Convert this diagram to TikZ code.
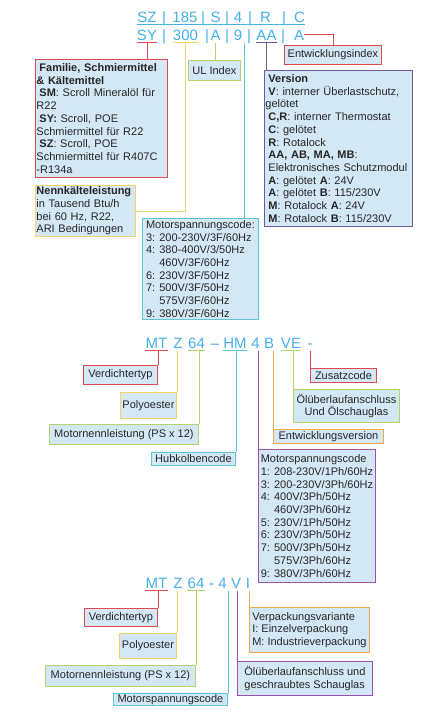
\documentclass[tikz,border=0pt]{standalone}
\usepackage{fontspec}
\setmainfont{Liberation Sans}
\usetikzlibrary{positioning,calc}
\definecolor{codeB}{HTML}{47B0E8}
\definecolor{lnkR}{HTML}{E04A4F}
\definecolor{lnkY}{HTML}{F5D36A}
\definecolor{lnkG}{HTML}{B7D46C}
\definecolor{lnkC}{HTML}{5FC6D8}
\definecolor{lnkP}{HTML}{6B5B9E}
\definecolor{lnkM}{HTML}{9C50B2}
\definecolor{lnkO}{HTML}{F4A84C}
\definecolor{boxF}{HTML}{D4E7F5}
\newcommand{\ind}{\hspace*{3pt}}

\begin{document}
\begin{tikzpicture}[x=1pt, y=-1pt,
  every node/.style={text=black!85},
  tok/.style={inner sep=0pt, anchor=base, text=codeB, font=\fontsize{15}{18}\selectfont},
  info/.style={draw=#1, fill=boxF, line width=0.9pt, anchor=north west,
               inner xsep=1pt, inner ysep=0.5pt, align=left,
               font=\fontsize{11}{12.7}\selectfont},
  link/.style={draw=#1, line width=0.8pt},
  uline/.style={draw=#1, line width=1pt}
]
\path[use as bounding box, fill=white] (0,0) rectangle (427,720);

% SZ / SY code
\foreach \nm/\x/\t in {sz/147/SZ, pa1/164/|, ohf/185/185, pa2/203/|, ss/215.5/S, pa3/227/|,
                       fo/238/4, pa4/250/|, rr/265.5/R, pa5/284/|, cc/299.5/C}
  \node[tok] (\nm) at (\x,22) {\t};
\foreach \nm/\x/\t in {sy/147/SY, pb1/164/|, th/185.5/300, pb2/207/|, ua/215.5/A, pb3/227/|,
                       nine/238/9, pb4/249/|, aa/266.5/AA, pb5/283/|, ea/299/A}
  {\node[tok] (\nm) at (\x,40) {\t};
   \coordinate (\nm-u) at (\x,42.5);}
\coordinate (nine-r) at (244,42.5);
\draw[uline=codeB] ([yshift=-2.5pt]sz.base west) -- ([yshift=-2.5pt]cc.base east);
\foreach \nm/\cl in {sy/lnkR, th/lnkY, aa/lnkP}
  \draw[uline=\cl] ([yshift=-2.5pt]\nm.base west) -- ([yshift=-2.5pt]\nm.base east);

\node[info=lnkR, text width=130pt, minimum height=118pt] (fam) at (35,59)
  {\ind\textbf{Familie, Schmiermittel}\\
   \textbf{\& Kältemittel}\\
   \ind\textbf{SM}: Scroll Mineralöl für\\
   R22\\
   \ind\textbf{SY:} Scroll, POE\\
   Schmiermittel für R22\\
   \ind\textbf{SZ}: Scroll, POE\\
   Schmiermittel für R407C\\
   -R134a};
\node[info=lnkY, text width=98pt, minimum height=51pt] (nenn) at (35,185)
  {\textbf{Nennkälteleistung}\\
   in Tausend Btu/h\\
   bei 60 Hz, R22,\\
   ARI Bedingungen};
\node[info=lnkG, minimum width=52pt, minimum height=20pt] (ul) at (188,60) {UL Index};
\node[info=lnkC, minimum width=116pt, minimum height=101pt] (mspa) at (142,218)
  {Motorspannungscode:\\
   3: 200-230V/3F/60Hz\\
   4: 380-400V/3/50Hz\\
   \hphantom{4: }460V/3F/60Hz\\
   6: 230V/3F/50Hz\\
   7: 500V/3F/50Hz\\
   \hphantom{7: }575V/3F/60Hz\\
   9: 380V/3F/60Hz};
\node[info=lnkP, text width=146pt, minimum height=156pt] (ver) at (264,70)
  {\ind\textbf{Version}\\
   \ind\textbf{V}: interner Überlastschutz,\\
   gelötet\\
   \ind\textbf{C,R}: interner Thermostat\\
   \ind\textbf{C}: gelötet\\
   \ind\textbf{R}: Rotalock\\
   \ind\textbf{AA, AB, MA, MB}:\\
   \ind Elektronisches Schutzmodul\\
   \ind\textbf{A}: gelötet \textbf{A}: 24V\\
   \ind\textbf{A}: gelötet \textbf{B}: 115/230V\\
   \ind\textbf{M}: Rotalock \textbf{A}: 24V\\
   \ind\textbf{M}: Rotalock \textbf{B}: 115/230V};
\node[info=lnkR, minimum width=97pt, minimum height=19pt] (eidx) at (284,45) {Entwicklungsindex};

\draw[link=lnkR] (sy-u) -- (sy-u |- fam.north);
\draw[link=lnkY] (th-u) |- (nenn.east);
\draw[link=lnkG] (ua-u) -- (ua-u |- ul.north);
\draw[link=lnkC] (nine-r) -- (nine-r |- mspa.north);
\draw[link=lnkP] (aa-u) -- (aa-u |- ver.north);
\draw[link=lnkR] (ea.east) -| (eidx.north);

% MTZ 64 - HM code
\foreach \nm/\x/\t in {mta/156.5/MT, za/178/Z, sfa/196.5/64, da/215/–, hm/235/HM,
                       fa/255.5/4, ba/269/B, ve/291/VE, xa/310/-}
  {\node[tok] (\nm) at (\x,348) {\t};
   \coordinate (\nm-u) at (\x,350.5);}
\foreach \nm/\cl in {mta/lnkR, sfa/lnkG, hm/lnkC, ve/lnkG}
  \draw[uline=\cl] ([yshift=-2.5pt]\nm.base west) -- ([yshift=-2.5pt]\nm.base east);

\node[info=lnkR, minimum width=74pt, minimum height=19pt] (vta) at (83,365) {Verdichtertyp};
\node[info=lnkY, minimum width=56pt, minimum height=26pt] (poa) at (120,392) {Polyoester};
\node[info=lnkG, minimum width=149pt, minimum height=20pt] (mna) at (49,424) {Motornennleistung (PS x 12)};
\node[info=lnkC, minimum width=84pt, minimum height=13pt] (hk) at (151,452) {Hubkolbencode};
\node[info=lnkM, minimum width=117pt, minimum height=133pt] (mspb) at (258,449)
  {Motorspannungscode\\
   1: 208-230V/1Ph/60Hz\\
   3: 200-230V/3Ph/60Hz\\
   4: 400V/3Ph/50Hz\\
   \hphantom{4: }460V/3Ph/60Hz\\
   5: 230V/1Ph/50Hz\\
   6: 230V/3Ph/50Hz\\
   7: 500V/3Ph/50Hz\\
   \hphantom{7: }575V/3Ph/60Hz\\
   9: 380V/3Ph/60Hz};
\node[info=lnkO, minimum width=110pt, minimum height=14pt] (evs) at (273,429) {Entwicklungsversion};
\node[info=lnkG, align=center, minimum width=106pt, minimum height=33pt] (oela) at (293,389)
  {Ölüberlaufanschluss\\Und Ölschauglas};
\node[info=lnkR, minimum width=66pt, minimum height=14pt] (zc) at (310,368) {Zusatzcode};

\draw[link=lnkR] (mta-u -| vta.north east) -- (vta.north east);
\draw[link=lnkY] (za-u -| poa.north east) -- (poa.north east);
\draw[link=lnkG] (sfa-u -| mna.north east) -- (mna.north east);
\draw[link=lnkC] (hm-u -| hk.north east) -- (hk.north east);
\draw[link=lnkM] (fa-u -| mspb.north west) -- (mspb.north west);
\draw[link=lnkO] (ba-u -| evs.north west) -- (evs.north west);
\draw[link=lnkG] (ve-u -| oela.north west) -- (oela.north west);
\draw[link=lnkR] (xa-u -| zc.north west) -- (zc.north west);

% MTZ 64 - 4 VI code
\foreach \nm/\x/\t in {mtb/156.5/MT, zb/178/Z, sfb/196/64, db/211.5/-, fb/222.5/4,
                       vb/236/V, ib/248/I}
  {\node[tok] (\nm) at (\x,588) {\t};
   \coordinate (\nm-u) at (\x,590.5);}
\foreach \nm/\cl in {mtb/lnkR, sfb/lnkG}
  \draw[uline=\cl] ([yshift=-2.5pt]\nm.base west) -- ([yshift=-2.5pt]\nm.base east);

\node[info=lnkR, minimum width=73pt, minimum height=18pt] (vtb) at (84,608) {Verdichtertyp};
\node[info=lnkY, minimum width=57pt, minimum height=25pt] (pob) at (119,633) {Polyoester};
\node[info=lnkG, minimum width=150pt, minimum height=21pt] (mnb) at (45,665) {Motornennleistung (PS x 12)};
\node[info=lnkC, minimum width=114pt, minimum height=12pt] (msc) at (113,693) {Motorspannungscode};
\node[info=lnkM, minimum width=135pt, minimum height=34pt] (oelb) at (237,661)
  {Ölüberlaufanschluss und\\geschraubtes Schauglas};
\node[info=lnkO, minimum width=120pt, minimum height=45pt] (vp) at (249,607)
  {Verpackungsvariante\\
   I: Einzelverpackung\\
   M: Industrieverpackung};

\draw[link=lnkR] (mtb-u -| vtb.north east) -- (vtb.north east);
\draw[link=lnkY] (zb-u -| pob.north east) -- (pob.north east);
\draw[link=lnkG] (sfb-u -| mnb.north east) -- (mnb.north east);
\draw[link=lnkC] (fb-u -| msc.north east) -- (msc.north east);
\draw[link=lnkM] (vb-u -| oelb.north west) -- (oelb.north west);
\draw[link=lnkO] (ib-u -| vp.north west) -- (vp.north west);
\end{tikzpicture}
\end{document}
